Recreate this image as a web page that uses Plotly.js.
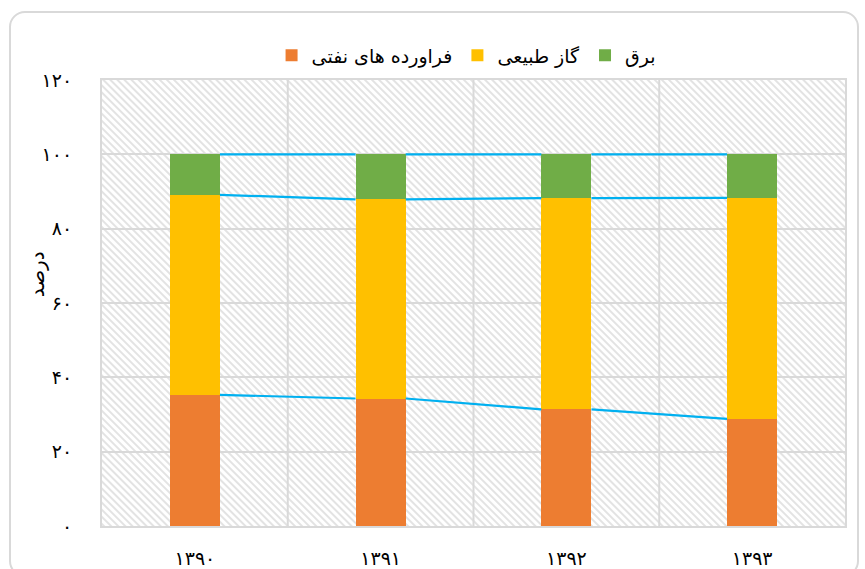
<!DOCTYPE html>
<html>
<head>
<meta charset="utf-8">
<script src="https://cdn.plot.ly/plotly-3.0.1.min.js"></script>
<style>
  html, body { margin: 0; padding: 0; background: #ffffff; }
  #frame { position: absolute; left: 9px; top: 11px; width: 850px; height: 566px;
           border: 2px solid #d9d9d9; border-radius: 16px; box-sizing: border-box; }
  #chart { position: absolute; left: 0; top: 0; width: 865px; height: 569px; }
</style>
</head>
<body>
<div id="frame"></div>
<div id="chart"></div>
<script>
// ---- data ----
var categories = ['۱۳۹۰', '۱۳۹۱', '۱۳۹۲', '۱۳۹۳'];
var seriesNames = ['فراورده های نفتی', 'گاز طبیعی', 'برق'];
var oilProducts = [35.3, 34.3, 31.4, 28.8];
var naturalGas = [53.8, 53.6, 56.8, 59.5];
var electricity = [10.9, 12.1, 11.8, 11.7];
var yTickValues = [0, 20, 40, 60, 80, 100, 120];
var yTickLabels = ['۰', '۲۰', '۴۰', '۶۰', '۸۰', '۱۰۰', '۱۲۰'];
var yAxisTitle = 'درصد';

// ---- styles ----
var colors = ['#ED7D31', '#FFC000', '#70AD47'];
var lineColor = '#00B0F0';
var barWidth = 0.27;
var fontFamily = '"DejaVu Sans", sans-serif';

var xIdx = categories.map(function (c, i) { return i; });
var series = [oilProducts, naturalGas, electricity];

var traces = series.map(function (vals, k) {
  return {
    type: 'bar', x: xIdx, y: vals, name: seriesNames[k], width: barWidth,
    marker: { color: colors[k], line: { width: 0 } }, hoverinfo: 'skip'
  };
});

// series lines connecting the tops of the stacked segments
var cum = [];
var running = xIdx.map(function () { return 0; });
series.forEach(function (vals) {
  running = running.map(function (r, i) { return r + vals[i]; });
  cum.push(running.slice());
});
cum.forEach(function (level) {
  var lx = [], ly = [];
  for (var i = 0; i < xIdx.length - 1; i++) {
    lx.push(xIdx[i] + barWidth / 2, xIdx[i + 1] - barWidth / 2, null);
    ly.push(level[i], level[i + 1], null);
  }
  traces.push({
    type: 'scatter', mode: 'lines', x: lx, y: ly, showlegend: false,
    hoverinfo: 'skip', line: { color: lineColor, width: 2.2 }, connectgaps: false
  });
});

// hatched plot background
var ml = 102, mr = 20, mt = 80, mb = 43;
var pw = 865 - ml - mr, ph = 569 - mt - mb;
var svg = '<svg xmlns="http://www.w3.org/2000/svg" width="' + pw + '" height="' + ph + '">' +
  '<defs><pattern id="p" patternUnits="userSpaceOnUse" width="5" height="5" patternTransform="rotate(-45)">' +
  '<rect x="0" y="0" width="5" height="5" fill="#ffffff"/>' +
  '<rect x="0" y="0" width="2" height="5" fill="#e3e3e3"/></pattern></defs>' +
  '<rect x="0" y="0" width="' + pw + '" height="' + ph + '" fill="url(#p)"/></svg>';
var svgUri = 'data:image/svg+xml;charset=utf-8,' + encodeURIComponent(svg);

var layout = {
  width: 865, height: 569,
  margin: { l: ml, r: mr, t: mt, b: mb, pad: 0 },
  paper_bgcolor: 'rgba(0,0,0,0)', plot_bgcolor: 'rgba(0,0,0,0)',
  barmode: 'stack',
  showlegend: true,
  font: { family: fontFamily, color: '#000000', size: 18 },
  legend: {
    orientation: 'h', x: 0.49, xanchor: 'center', y: 1.055, yanchor: 'middle',
    traceorder: 'normal', font: { size: 19, family: fontFamily }, itemwidth: 30,
    bgcolor: 'rgba(0,0,0,0)'
  },
  xaxis: {
    range: [-0.5, categories.length - 0.5],
    tickvals: xIdx, ticktext: categories,
    showgrid: false, zeroline: false,
    showline: true, mirror: true, linecolor: '#d9d9d9', linewidth: 2,
    ticks: 'outside', ticklen: 14, tickcolor: 'rgba(0,0,0,0)',
    tickfont: { size: 19, family: fontFamily },
    fixedrange: true
  },
  yaxis: {
    range: [0, 120], tickvals: yTickValues, ticktext: yTickLabels,
    showgrid: true, gridcolor: '#d9d9d9', gridwidth: 2, zeroline: false,
    showline: true, mirror: true, linecolor: '#d9d9d9', linewidth: 2,
    ticks: 'outside', ticklen: 24, tickcolor: 'rgba(0,0,0,0)',
    tickfont: { size: 19, family: fontFamily },
    fixedrange: true
  },
  shapes: xIdx.slice(0, -1).map(function (i) {
    return { type: 'line', xref: 'x', yref: 'paper', x0: i + 0.5, x1: i + 0.5, y0: 0, y1: 1,
             layer: 'below', line: { color: '#d9d9d9', width: 2 } };
  }),
  images: [{
    source: svgUri, xref: 'paper', yref: 'paper', x: 0, y: 1, sizex: 1, sizey: 1,
    xanchor: 'left', yanchor: 'top', sizing: 'stretch', layer: 'below'
  }],
  annotations: [{
    text: yAxisTitle, xref: 'paper', yref: 'paper', x: -0.087, y: 0.565,
    xanchor: 'center', yanchor: 'middle', textangle: -90, showarrow: false,
    font: { size: 20, family: fontFamily, color: '#000000' }
  }]
};

Plotly.newPlot('chart', traces, layout, { displayModeBar: false, staticPlot: true });
</script>
</body>
</html>
